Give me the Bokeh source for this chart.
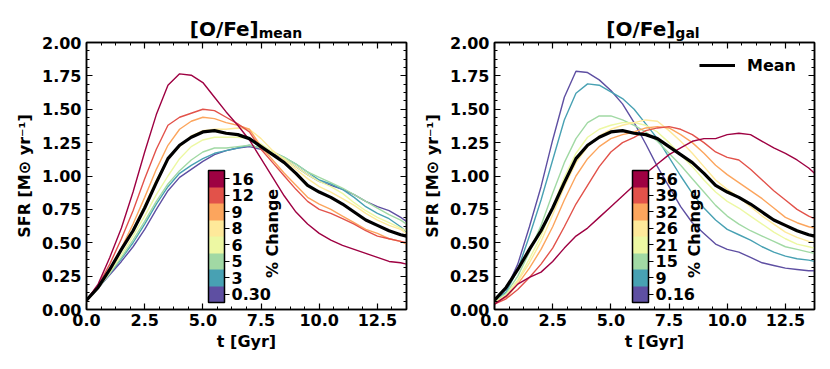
import numpy as np
from bokeh.plotting import figure
from bokeh.layouts import row, column
from bokeh.models import (LinearAxis, FixedTicker, NumeralTickFormatter, ColorBar,
                          LinearColorMapper, Label, Div, AllLabels, CustomLabelingPolicy)
from bokeh.embed import file_html
from bokeh.resources import INLINE

# ---------------- data ----------------
t = [0.0, 0.5, 1.0, 1.5, 2.0, 2.5, 3.0, 3.5, 4.0, 4.5, 5.0, 5.5, 6.0, 6.5, 7.0,
     7.5, 8.0, 8.5, 9.0, 9.5, 10.0, 10.5, 11.0, 11.5, 12.0, 12.5, 13.0, 13.5, 13.75]

sfr_mean = [0.07, 0.165, 0.30, 0.45, 0.59, 0.76, 0.95, 1.13, 1.23, 1.29, 1.33, 1.34, 1.32, 1.31, 1.28,
            1.22, 1.16, 1.10, 1.02, 0.93, 0.88, 0.84, 0.79, 0.73, 0.67, 0.63, 0.59, 0.56, 0.55]

# left panel: [O/Fe]_mean, % change labels (low -> high)
left_labels = ["0.30", "3", "5", "6", "8", "9", "12", "16"]
left_p030 = [0.07, 0.16, 0.26, 0.36, 0.47, 0.60, 0.75, 0.89, 0.99, 1.05, 1.11, 1.16, 1.19, 1.21, 1.22,
             1.20, 1.17, 1.13, 1.07, 1.01, 0.96, 0.93, 0.90, 0.86, 0.81, 0.77, 0.74, 0.69, 0.66]
left_p3 = [0.07, 0.16, 0.27, 0.38, 0.50, 0.64, 0.79, 0.92, 1.02, 1.08, 1.13, 1.17, 1.19, 1.21, 1.23,
           1.21, 1.18, 1.14, 1.09, 1.03, 0.97, 0.94, 0.90, 0.84, 0.77, 0.72, 0.68, 0.62, 0.58]
left_p5 = [0.07, 0.16, 0.27, 0.39, 0.52, 0.66, 0.81, 0.94, 1.04, 1.12, 1.18, 1.21, 1.21, 1.22, 1.23,
           1.21, 1.18, 1.14, 1.09, 1.03, 0.99, 0.95, 0.91, 0.86, 0.81, 0.76, 0.71, 0.67, 0.64]
left_p6 = [0.07, 0.16, 0.28, 0.41, 0.55, 0.70, 0.86, 1.00, 1.13, 1.22, 1.27, 1.29, 1.29, 1.29, 1.28,
           1.24, 1.18, 1.13, 1.07, 1.01, 0.96, 0.92, 0.87, 0.80, 0.74, 0.69, 0.65, 0.61, 0.59]
left_p8 = [0.07, 0.16, 0.29, 0.44, 0.60, 0.78, 0.97, 1.13, 1.22, 1.30, 1.34, 1.35, 1.35, 1.36, 1.35,
           1.28, 1.19, 1.12, 1.05, 0.98, 0.92, 0.88, 0.83, 0.78, 0.72, 0.67, 0.63, 0.60, 0.57]
left_p9 = [0.07, 0.165, 0.30, 0.46, 0.64, 0.84, 1.05, 1.23, 1.35, 1.41, 1.44, 1.43, 1.40, 1.38, 1.35,
           1.22, 1.12, 1.02, 0.93, 0.84, 0.79, 0.75, 0.70, 0.65, 0.60, 0.57, 0.53, 0.51, 0.49]
left_p12 = [0.07, 0.18, 0.34, 0.53, 0.74, 0.98, 1.20, 1.38, 1.44, 1.47, 1.50, 1.49, 1.44, 1.39, 1.33,
            1.20, 1.10, 1.00, 0.90, 0.81, 0.75, 0.72, 0.68, 0.64, 0.59, 0.55, 0.53, 0.51, 0.50]
left_p16 = [0.07, 0.19, 0.39, 0.61, 0.88, 1.18, 1.46, 1.68, 1.765, 1.755, 1.70, 1.59, 1.48, 1.38, 1.27,
            1.13, 0.99, 0.85, 0.73, 0.64, 0.57, 0.52, 0.48, 0.45, 0.42, 0.39, 0.36, 0.35, 0.34]

# right panel: [O/Fe]_gal
right_labels = ["0.16", "9", "15", "21", "26", "32", "39", "56"]
right_p016 = [0.08, 0.15, 0.34, 0.62, 0.92, 1.27, 1.59, 1.785, 1.775, 1.72, 1.64, 1.54, 1.40, 1.24, 1.07,
              0.92, 0.77, 0.65, 0.57, 0.49, 0.45, 0.43, 0.39, 0.35, 0.33, 0.31, 0.30, 0.29, 0.29]
right_p9 = [0.07, 0.13, 0.30, 0.55, 0.82, 1.12, 1.42, 1.62, 1.69, 1.68, 1.63, 1.58, 1.50, 1.39, 1.28,
            1.14, 1.00, 0.87, 0.76, 0.67, 0.60, 0.56, 0.52, 0.47, 0.43, 0.40, 0.38, 0.37, 0.36]
right_p15 = [0.06, 0.12, 0.25, 0.43, 0.63, 0.87, 1.10, 1.28, 1.40, 1.45, 1.45, 1.42, 1.38, 1.33, 1.26,
             1.17, 1.08, 0.98, 0.88, 0.78, 0.70, 0.64, 0.59, 0.55, 0.51, 0.47, 0.45, 0.43, 0.42]
right_p21 = [0.05, 0.11, 0.22, 0.38, 0.55, 0.77, 0.99, 1.17, 1.29, 1.35, 1.38, 1.40, 1.40, 1.38, 1.33,
             1.25, 1.16, 1.07, 0.97, 0.88, 0.81, 0.76, 0.70, 0.64, 0.58, 0.53, 0.49, 0.47, 0.46]
right_p26 = [0.05, 0.10, 0.21, 0.35, 0.51, 0.71, 0.92, 1.10, 1.22, 1.30, 1.35, 1.38, 1.40, 1.42, 1.41,
             1.34, 1.26, 1.17, 1.07, 0.97, 0.90, 0.84, 0.77, 0.70, 0.64, 0.58, 0.54, 0.51, 0.50]
right_p32 = [0.05, 0.09, 0.19, 0.31, 0.45, 0.62, 0.82, 1.00, 1.13, 1.22, 1.28, 1.31, 1.33, 1.36, 1.37,
             1.36, 1.31, 1.25, 1.17, 1.08, 1.01, 0.95, 0.89, 0.83, 0.76, 0.69, 0.65, 0.62, 0.61]
right_p39 = [0.04, 0.08, 0.15, 0.24, 0.34, 0.46, 0.62, 0.79, 0.93, 1.07, 1.18, 1.25, 1.29, 1.34, 1.36,
             1.37, 1.35, 1.31, 1.25, 1.18, 1.14, 1.12, 1.05, 0.97, 0.89, 0.82, 0.75, 0.70, 0.68]
right_p56 = [0.04, 0.10, 0.19, 0.24, 0.28, 0.36, 0.46, 0.55, 0.61, 0.69, 0.77, 0.85, 0.93, 1.02, 1.09,
             1.16, 1.21, 1.26, 1.28, 1.28, 1.31, 1.32, 1.31, 1.26, 1.21, 1.17, 1.12, 1.06, 1.02]

x_ticks = [0.0, 2.5, 5.0, 7.5, 10.0, 12.5]
y_ticks = [0.0, 0.25, 0.5, 0.75, 1.0, 1.25, 1.5, 1.75, 2.0]

# Spectral_r sampled in 8 steps (low -> high)
colors = ["#5e4fa2", "#48a1b3", "#a1d9a4", "#edf8a3", "#fee99a", "#fca55d", "#e2524a", "#9e0142"]

left_series = [left_p030, left_p3, left_p5, left_p6, left_p8, left_p9, left_p12, left_p16]
right_series = [right_p016, right_p9, right_p15, right_p21, right_p26, right_p32, right_p39, right_p56]

FONT = "DejaVu Sans"
TICK_FS = "16px"
HIDE_ALL = "for (const i of indices) indices.unset(i)"


def style_axis(ax, show_labels, fmt):
    ax.axis_line_color = "black"
    ax.axis_line_width = 1.5
    ax.major_tick_in = 6
    ax.major_tick_out = 0
    ax.minor_tick_in = 3
    ax.minor_tick_out = 0
    ax.major_tick_line_color = "black"
    ax.minor_tick_line_color = "black"
    ax.major_tick_line_width = 1.2
    ax.minor_tick_line_width = 1
    ax.formatter = NumeralTickFormatter(format=fmt)
    ax.major_label_text_font = FONT
    ax.major_label_text_font_style = "bold"
    ax.major_label_text_color = "black"
    if show_labels:
        ax.major_label_text_font_size = TICK_FS
    else:
        ax.major_label_text_font_size = "1px"
        ax.major_label_standoff = 0
        ax.major_label_policy = CustomLabelingPolicy(code=HIDE_ALL)


def make_panel(series, labels, cbar_loc, cbar_title_x, legend, left_border, right_border):
    p = figure(frame_width=320, frame_height=267, x_range=(0, 13.75), y_range=(0, 2),
               output_backend="svg", toolbar_location=None,
               min_border_left=left_border, min_border_right=right_border,
               min_border_top=24, min_border_bottom=48)
    p.xgrid.visible = False
    p.ygrid.visible = False
    p.outline_line_color = "black"
    p.outline_line_width = 1.5
    p.background_fill_color = "white"
    p.border_fill_alpha = 0

    xt = FixedTicker(ticks=x_ticks, minor_ticks=list(np.arange(0, 13.76, 0.625)))
    yt = FixedTicker(ticks=y_ticks, minor_ticks=list(np.arange(0, 2.001, 0.0625)))

    xax = p.xaxis[0]
    yax = p.yaxis[0]
    xax.ticker = xt
    yax.ticker = yt
    style_axis(xax, True, "0.0")
    style_axis(yax, True, "0.00")
    xax.major_label_standoff = 4
    yax.major_label_standoff = 5

    yax.axis_label = "SFR [M⊙ yr⁻¹]"
    yax.axis_label_text_font = FONT
    yax.axis_label_text_font_style = "bold"
    yax.axis_label_text_font_size = "16px"
    yax.axis_label_text_color = "black"
    yax.axis_label_standoff = 5

    xax.axis_label = "t [Gyr]"
    xax.axis_label_text_font = FONT
    xax.axis_label_text_font_style = "bold"
    xax.axis_label_text_font_size = "16px"
    xax.axis_label_text_color = "black"
    xax.axis_label_standoff = 3

    top = LinearAxis(ticker=xt)
    style_axis(top, False, "0.0")
    p.add_layout(top, "above")
    right = LinearAxis(ticker=yt)
    style_axis(right, False, "0.00")
    p.add_layout(right, "right")

    for ys, c in zip(series, colors):
        p.line(t, ys, line_color=c, line_width=1.4)
    if legend:
        p.line(t, sfr_mean, line_color="black", line_width=3.2, legend_label="Mean")
        lg = p.legend[0]
        lg.location = (205, 234)
        lg.background_fill_alpha = 0
        lg.border_line_alpha = 0
        lg.label_text_font = FONT
        lg.label_text_font_style = "bold"
        lg.label_text_font_size = "16px"
        lg.label_text_color = "black"
        lg.glyph_width = 36
        lg.glyph_height = 20
        lg.label_height = 20
        lg.label_standoff = 12
        lg.margin = 0
        lg.padding = 0
    else:
        p.line(t, sfr_mean, line_color="black", line_width=3.2)

    mapper = LinearColorMapper(palette=colors, low=0, high=8)
    cb_ticks = [0.5, 1.5, 2.5, 3.5, 4.5, 5.5, 6.5, 7.5]
    cb = ColorBar(color_mapper=mapper, ticker=FixedTicker(ticks=cb_ticks),
                  major_label_overrides={k: v for k, v in zip(cb_ticks, labels)},
                  major_label_policy=AllLabels(),
                  width=16, height=132, location=cbar_loc, padding=0,
                  bar_line_color="black", bar_line_width=1.5,
                  major_tick_in=0, major_tick_out=5, major_tick_line_color="black",
                  major_tick_line_width=1.2, minor_tick_line_color=None,
                  major_label_text_font=FONT, major_label_text_font_style="bold",
                  major_label_text_font_size=TICK_FS, major_label_text_color="black",
                  label_standoff=2, background_fill_alpha=0, border_line_color=None)
    p.add_layout(cb, "center")
    p.add_layout(Label(x=cbar_title_x, y=0.57, text="% Change", angle=np.pi / 2,
                       text_align="center", text_baseline="middle", text_font=FONT,
                       text_font_style="bold", text_font_size="16px", text_color="black"))
    return p


def title_div(main, sub, width, frame_left):
    html = ("<div style=\"font-family:'DejaVu Sans';font-weight:bold;font-size:20px;"
            "line-height:16px;padding-top:21px;margin-left:%dpx;width:320px;"
            "text-align:center;color:black;white-space:nowrap\">%s"
            "<span style=\"font-size:14px;position:relative;top:2px\">%s</span></div>"
            % (frame_left, main, sub))
    return Div(text=html, width=width, height=44, margin=0)


W1_LEFT, W1_RIGHT = 86, 4
W2_LEFT, W2_RIGHT = 83, 9

p1 = make_panel(left_series, left_labels, (122, 7), 7.99, False, W1_LEFT, W1_RIGHT)
p2 = make_panel(right_series, right_labels, (138, 7), 8.59, True, W2_LEFT, W2_RIGHT)

d1 = title_div("[O/Fe]", "mean", W1_LEFT + 320 + W1_RIGHT, W1_LEFT)
d2 = title_div("[O/Fe]", "gal", W2_LEFT + 320 + W2_RIGHT, W2_LEFT)

titles = row(d1, d2, margin=(0, 0, -26, 0))
layout = column(titles, row(p1, p2))
open("out.html", "w").write(file_html(layout, INLINE))
